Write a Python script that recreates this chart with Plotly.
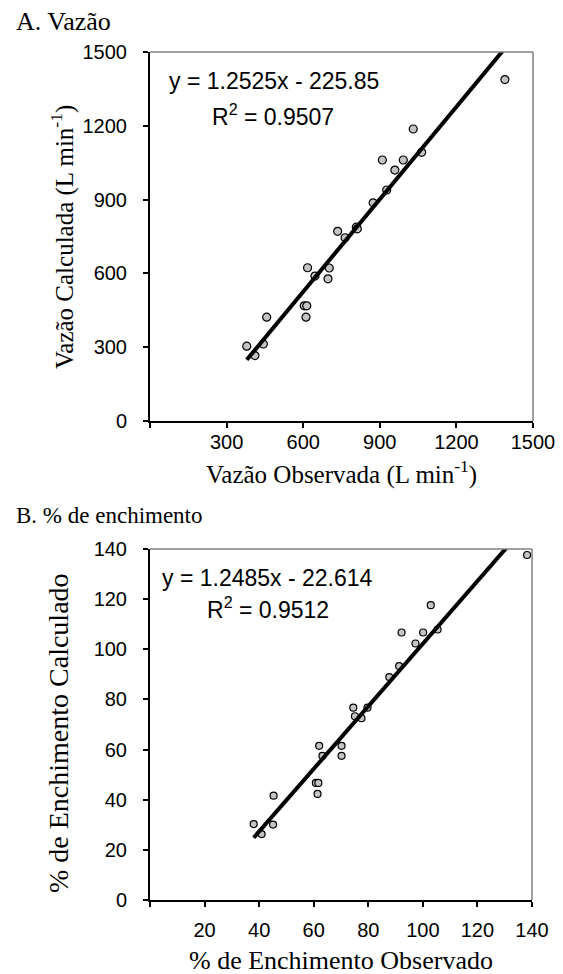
import plotly.graph_objects as go

W, H = 563, 974

# ---------------- Data ----------------
# Panel A: Vazão (L min-1)
vazao_obs = [379, 411, 444, 457, 604, 614, 611, 617, 646, 697, 702, 735, 764,
             808, 812, 874, 910, 927, 959, 992, 1031, 1064, 1390]
vazao_calc = [304, 266, 313, 422, 468, 468, 422, 623, 589, 578, 622, 771, 745,
              788, 781, 887, 1061, 939, 1020, 1061, 1187, 1092, 1388]
slope_a, intercept_a = 1.2525, -225.85
eq_a = "y = 1.2525x - 225.85"
r2_a = "R<sup>2</sup> = 0.9507"
xticks_a = [300, 600, 900, 1200, 1500]
yticks_a = [0, 300, 600, 900, 1200, 1500]

# Panel B: % de enchimento
ench_obs = [38.0, 40.9, 45.1, 45.3, 60.8, 61.7, 61.4, 62.0, 63.2, 70.2, 70.2,
            74.5, 75.1, 77.5, 79.7, 87.7, 91.3, 92.2, 97.3, 100.1, 102.9, 105.4, 138.2]
ench_calc = [30.3, 26.3, 30.1, 41.6, 46.7, 46.7, 42.3, 61.5, 57.5, 57.5, 61.5,
             76.7, 73.3, 72.5, 76.7, 88.9, 93.3, 106.7, 102.3, 106.7, 117.6, 107.9, 137.6]
slope_b, intercept_b = 1.2485, -22.614
eq_b = "y = 1.2485x - 22.614"
r2_b = "R<sup>2</sup> = 0.9512"
xticks_b = [20, 40, 60, 80, 100, 120, 140]
yticks_b = [0, 20, 40, 60, 80, 100, 120, 140]

# ---------------- Layout helpers ----------------
SANS = "Liberation Sans, Arial, sans-serif"
SERIF = "Liberation Serif, Times New Roman, serif"

def px_x(p):
    return p / W

def px_y(p):
    return 1 - p / H

A_box = dict(l=150, r=533, t=52, b=421)
B_box = dict(l=150, r=532, t=549, b=900)

fig = go.Figure()

def add_panel(xs, ys, slope, intercept, xa, ya, msize):
    fig.add_trace(go.Scatter(
        x=xs, y=ys, mode="markers", xaxis=xa, yaxis=ya,
        marker=dict(size=msize, color="#c4c4c4", line=dict(color="black", width=1.2)),
        showlegend=False, hoverinfo="x+y"))
    x0, x1 = min(xs), max(xs)
    fig.add_trace(go.Scatter(
        x=[x0, x1], y=[slope * x0 + intercept, slope * x1 + intercept],
        mode="lines", xaxis=xa, yaxis=ya,
        line=dict(color="black", width=4), showlegend=False, hoverinfo="skip"))

add_panel(vazao_obs, vazao_calc, slope_a, intercept_a, "x", "y", 8)
add_panel(ench_obs, ench_calc, slope_b, intercept_b, "x2", "y2", 7)

axis_common = dict(
    showline=True, linecolor="black", linewidth=2,
    ticks="outside", ticklen=5, tickwidth=1.5, tickcolor="black",
    showgrid=False, zeroline=False, automargin=False,
    tickfont=dict(family=SANS, size=20, color="black"),
)
minor0 = dict(ticks="outside", ticklen=5, tickwidth=1.5, tickcolor="black",
              tickvals=[0], showgrid=False)

fig.update_layout(
    width=W, height=H,
    margin=dict(l=0, r=0, t=0, b=0),
    paper_bgcolor="white", plot_bgcolor="white",
    xaxis=dict(axis_common, domain=[px_x(A_box["l"]), px_x(A_box["r"])], range=[0, 1500],
               tickvals=xticks_a, minor=minor0,
               anchor="y", ticklabelstandoff=-3),
    yaxis=dict(axis_common, domain=[px_y(A_box["b"]), px_y(A_box["t"])], range=[0, 1500],
               tickvals=yticks_a, anchor="x", ticklabelstandoff=12),
    xaxis2=dict(axis_common, domain=[px_x(B_box["l"]), px_x(B_box["r"])], range=[0, 140],
                tickvals=xticks_b, minor=minor0,
                anchor="y2", ticklabelstandoff=6),
    yaxis2=dict(axis_common, domain=[px_y(B_box["b"]), px_y(B_box["t"])], range=[0, 140],
                tickvals=yticks_b, anchor="x2", ticklabelstandoff=12),
)

# gray top/right frame lines
for xa, ya in (("x", "y"), ("x2", "y2")):
    fig.add_shape(type="line", xref=f"{xa} domain", yref=f"{ya} domain",
                  x0=0, x1=1, y0=1, y1=1, line=dict(color="#808080", width=1.5))
    fig.add_shape(type="line", xref=f"{xa} domain", yref=f"{ya} domain",
                  x0=1, x1=1, y0=0, y1=1, line=dict(color="#808080", width=1.5))

def ann(text, x, y, size, family, xanchor="center", angle=0):
    fig.add_annotation(text=text, x=px_x(x), y=px_y(y), xref="paper", yref="paper",
                       showarrow=False, xanchor=xanchor, yanchor="middle",
                       textangle=angle, font=dict(family=family, size=size, color="black"))

# Panel labels
ann("A. Vazão", 14, 22, 26, SERIF, xanchor="left")
ann("B. % de enchimento", 14, 515, 23, SERIF, xanchor="left")

# Axis titles
ann("Vazão Observada (L min<sup>-1</sup>)", 341, 472, 25, SERIF)
ann("Vazão Calculada (L min<sup>-1</sup>)", 62, 237, 25, SERIF, angle=-90)
ann("% de Enchimento Observado", 341, 960, 26, SERIF)
ann("% de Enchimento Calculado", 58, 733, 28, SERIF, angle=-90)

# Equations
ann(eq_a, 274, 81, 23, SANS)
ann(r2_a, 273, 115, 23, SANS)
ann(eq_b, 267, 578, 23, SANS)
ann(r2_b, 268, 608, 23, SANS)

fig.write_html("out.html", config={"displayModeBar": False},
               post_script="document.body.style.margin='0';")
